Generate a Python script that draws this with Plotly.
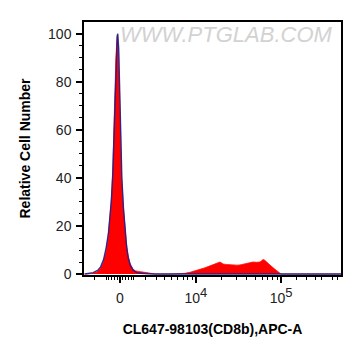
import numpy as np
import plotly.graph_objects as go

# Display scale: arcsinh-transformed APC-A intensity (cofactor 2650)
COFACTOR = 2650.0

def disp(v):
    return np.arcsinh(np.asarray(v, dtype=float) / COFACTOR)

# ---- sample (CL647-98103 CD8b) histogram, x in display units ----
sample_x = [-0.95, -0.90, -0.75, -0.62, -0.54, -0.46, -0.38, -0.32, -0.28, -0.24,
            -0.20, -0.17, -0.14, -0.11, -0.08, -0.065, -0.04, -0.02, 0.00, 0.02,
            0.045, 0.09, 0.13, 0.17, 0.215, 0.27, 0.35, 0.42, 0.55, 0.65,
            0.75, 0.85, 0.95, 1.40, 1.48, 1.60, 1.745, 1.90, 2.067, 2.18,
            2.282, 2.416, 2.52, 2.604, 2.685, 2.72, 2.765, 2.85, 2.953, 3.05,
            3.14, 3.221, 3.30, 3.409, 3.49, 3.570, 3.66, 3.758, 3.80, 3.839,
            3.88, 3.919, 4.00, 4.081, 4.16, 4.242, 4.322, 5.93]
sample_y = [0, 0, 0.2, 0.8, 2.0, 4.5, 9.0, 15, 21, 29,
            40, 58, 76, 90, 98, 99.5, 93, 80, 68, 58,
            40, 28, 20, 13, 8.0, 4.5, 2.0, 1.3, 1.0, 0.7,
            0.3, 0.1, 0, 0, 0, 0.1, 0.3, 0.8, 1.5, 2.0,
            2.6, 3.4, 4.1, 4.6, 5.0, 4.7, 4.2, 4.0, 3.8, 3.9,
            3.7, 3.8, 4.1, 4.5, 4.6, 5.0, 4.9, 5.0, 5.5, 6.0,
            5.8, 5.2, 4.2, 3.0, 2.0, 1.0, 0, 0]

# ---- control (unstained) histogram ----
control_x = [-0.95, -0.85, -0.72, -0.60, -0.52, -0.44, -0.37, -0.31, -0.27, -0.23,
             -0.19, -0.16, -0.13, -0.10, -0.075, -0.06, -0.035, -0.015, 0.005, 0.025,
             0.05, 0.095, 0.14, 0.18, 0.225, 0.28, 0.36, 0.45, 0.55, 0.70, 0.90, 5.93]
control_y = [0, 0.2, 0.6, 1.5, 3.0, 6.0, 11, 17, 23, 31,
             43, 60, 78, 91, 99, 100, 94, 81, 69, 58,
             40, 27, 18, 11, 6.5, 3.5, 1.5, 0.6, 0.3, 0.1, 0, 0]

# ---- axis ticks ----
major_vals = [0, 1e4, 1e5]
major_text = ["0",
              "10<sup><span style='font-size:13px'>4</span></sup>",
              "10<sup><span style='font-size:13px'>5</span></sup>"]
minor_vals = [-3000, -2000, -1000, -800, -600, -400, -200, 200, 400, 600, 800,
              1000, 2000, 3000, 4000, 5000, 6000, 7000, 8000, 9000,
              2e4, 3e4, 4e4, 5e4, 6e4, 7e4, 8e4, 9e4,
              1.5e5, 2e5, 2.5e5, 3e5, 4e5, 4.6e5]

y_ticks = [0, 20, 40, 60, 80, 100]

FONT = "Arial, Liberation Sans, sans-serif"

fig = go.Figure()
fig.add_trace(go.Scatter(
    x=sample_x, y=sample_y, mode="lines", fill="tozeroy",
    fillcolor="#ff0000", line=dict(color="#ff1010", width=0.8),
    hoverinfo="skip", showlegend=False))
fig.add_trace(go.Scatter(
    x=control_x, y=control_y, mode="lines",
    line=dict(color="rgba(30,30,140,0.9)", width=1.4),
    hoverinfo="skip", showlegend=False))

fig.add_annotation(
    text="WWW.PTGLAB.COM", xref="paper", yref="paper", x=0.556, y=0.95,
    showarrow=False, xanchor="center", yanchor="middle",
    font=dict(family=FONT, size=22, color="#d2d2d2", style="italic"))

# page body adds an 8px offset; margins compensate for it
fig.update_layout(
    width=361, height=356,
    margin=dict(l=76, r=28, t=12, b=89),
    paper_bgcolor="white", plot_bgcolor="white",
    font=dict(family=FONT, size=13, color="#222"),
    xaxis=dict(
        range=[-0.966, 5.933], showgrid=False, zeroline=False,
        showline=True, linecolor="black", linewidth=1.5, mirror=True,
        tickmode="array", tickvals=list(disp(major_vals)), ticktext=major_text,
        ticks="outside", ticklen=6, tickwidth=1.5, tickcolor="black",
        ticklabelstandoff=3,
        tickfont=dict(family=FONT, size=14, color="#222"),
        minor=dict(tickmode="array", tickvals=list(disp(minor_vals)),
                   ticks="outside", ticklen=3, tickwidth=1, tickcolor="black"),
        title=dict(text="<b>CL647-98103(CD8b),APC-A</b>", standoff=20,
                   font=dict(family=FONT, size=14, color="black")),
    ),
    yaxis=dict(
        range=[-0.4, 104.9], showgrid=False, zeroline=False,
        showline=True, linecolor="black", linewidth=1.5, mirror=True,
        tickmode="array", tickvals=y_ticks,
        ticks="outside", ticklen=6, tickwidth=1.5, tickcolor="black",
        ticklabelstandoff=2,
        tickfont=dict(family=FONT, size=14, color="#222"),
        minor=dict(dtick=5, ticks="outside", ticklen=3, tickwidth=1, tickcolor="black"),
        title=dict(text="<b>Relative Cell Number</b>", standoff=14,
                   font=dict(family=FONT, size=14, color="black")),
    ),
)

fig.write_html("out.html")
